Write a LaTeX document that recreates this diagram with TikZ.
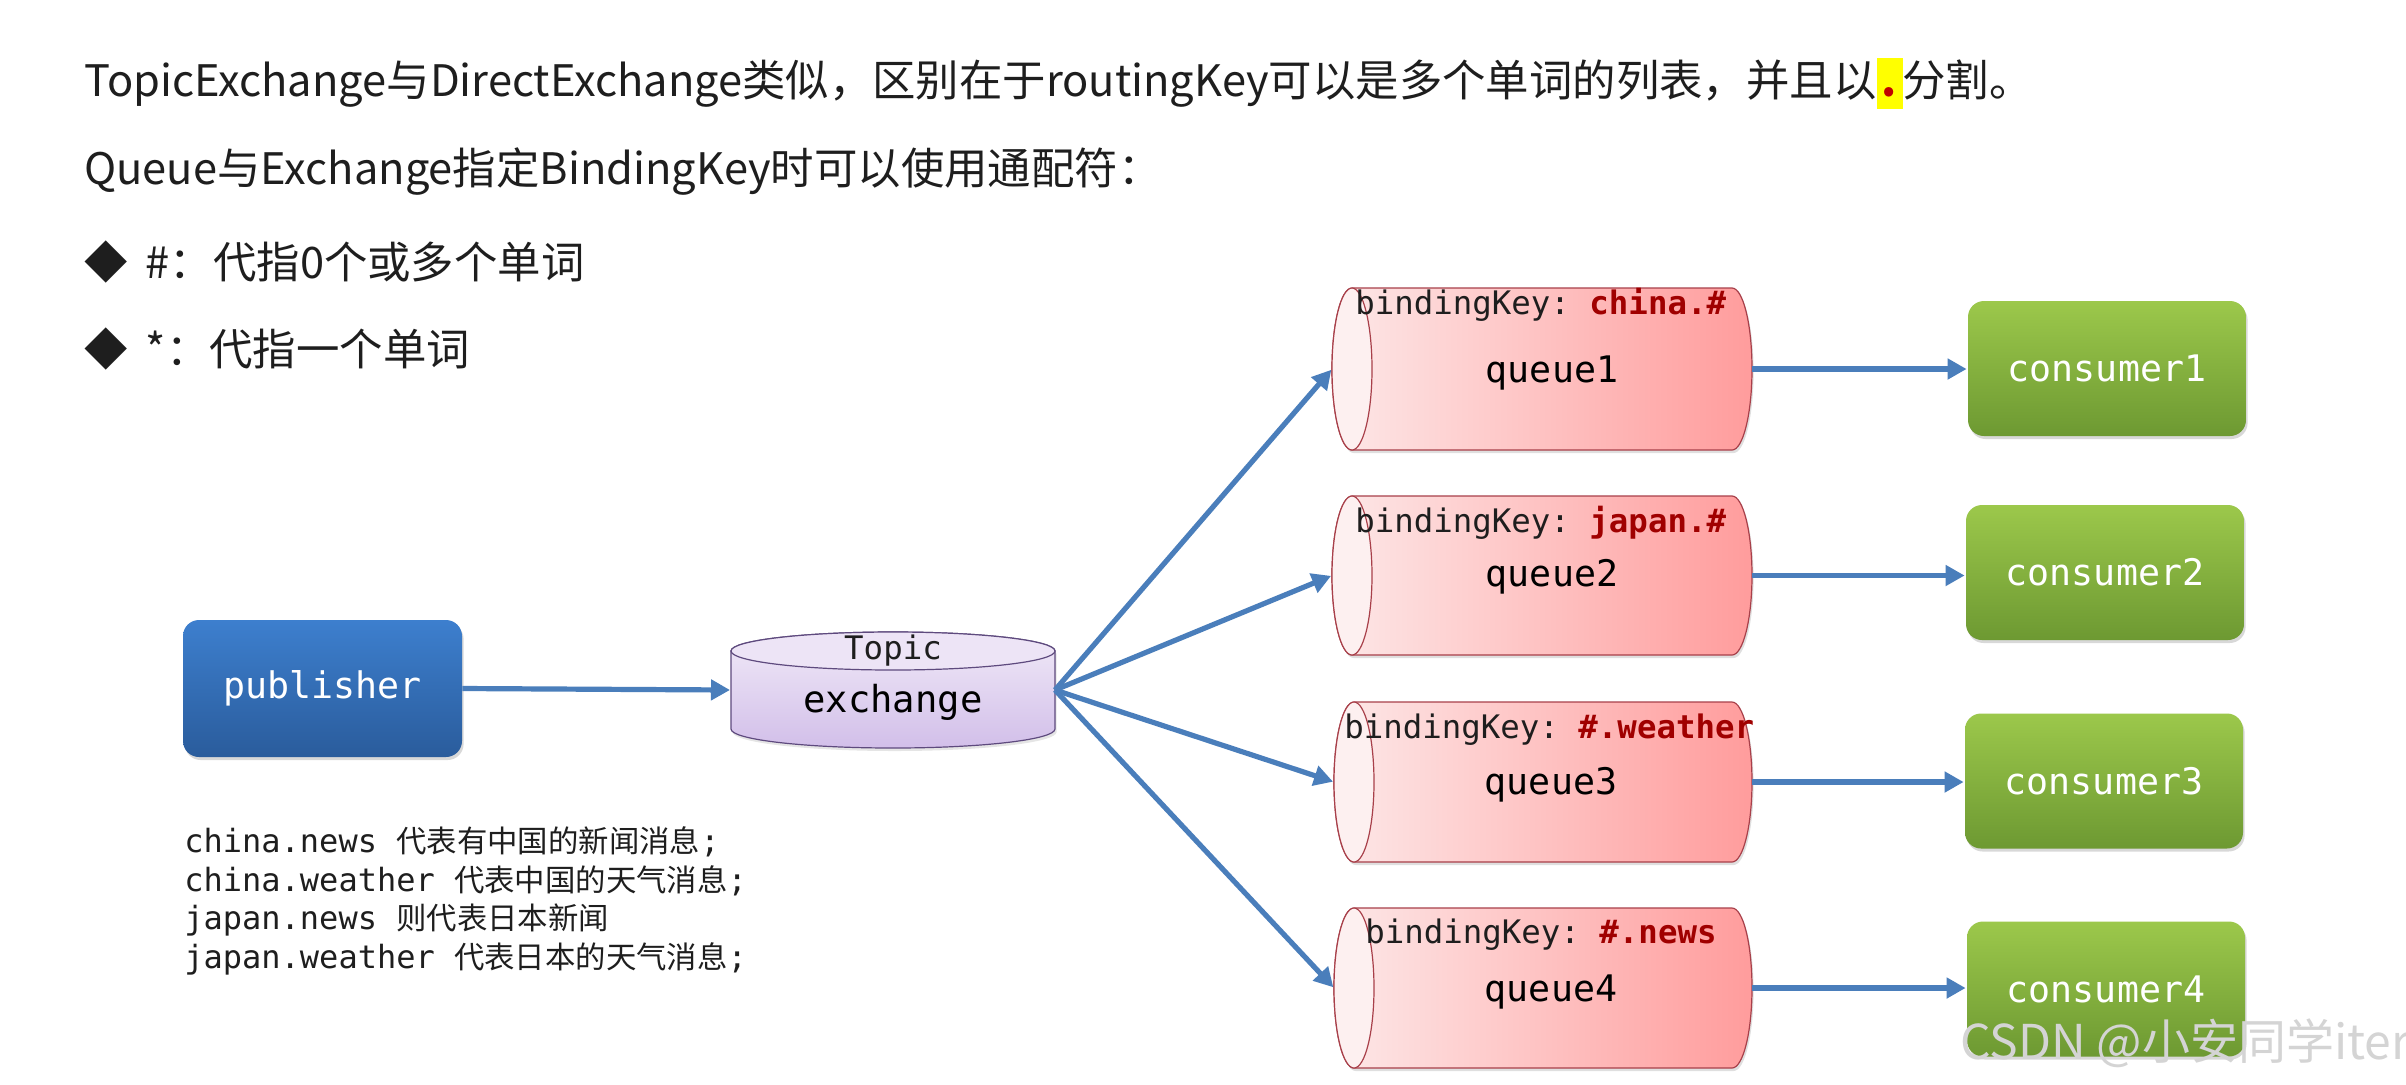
\documentclass[tikz,border=0pt]{standalone}
\usepackage{fontspec}
\setmainfont{Noto Sans CJK SC}
\setmonofont{DejaVu Sans Mono}
\usetikzlibrary{arrows.meta,shadows}
\definecolor{arrowblue}{HTML}{4A7EBB}
\definecolor{textdark}{HTML}{1E1E1E}
\definecolor{hlyellow}{HTML}{FFFF00}
\definecolor{dotred}{HTML}{C00000}
\definecolor{keyred}{HTML}{A00000}
\definecolor{pubtop}{HTML}{3D7FCE}
\definecolor{pubbot}{HTML}{2A5C9C}
\definecolor{contop}{HTML}{9CC84B}
\definecolor{conbot}{HTML}{6D9932}
\definecolor{extop}{HTML}{F1EAF8}
\definecolor{exbot}{HTML}{D2BFE9}
\definecolor{exface}{HTML}{EDE4F6}
\definecolor{exborder}{HTML}{5E4A7E}
\definecolor{qleft}{HTML}{FDE8E8}
\definecolor{qright}{HTML}{FF9C9C}
\definecolor{qface}{HTML}{FDF0F0}
\definecolor{qborder}{HTML}{A8404A}
\definecolor{wmgray}{HTML}{D4D4D4}
\newcommand\hldot{{\setlength{\fboxsep}{0pt}\colorbox{hlyellow}{\rule[-6pt]{0pt}{25.5pt}\makebox[13pt]{\textcolor{dotred}{\bfseries .}}}}}
\newcommand\qcyl[5]{%
  \pgfmathsetmacro\qM{(#3+#5)/2}%
  \pgfmathsetmacro\qry{(#5-#3)/2}%
  \pgfmathsetmacro\qLi{#2+20}%
  \pgfmathsetmacro\qRi{#4-20}%
  \pgfmathsetmacro\qcx{(#2+#4)/2}%
  \path[qbody] (\qLi,-#3) -- (\qRi,-#3)
     arc[start angle=90,end angle=-90,x radius=20,y radius=\qry]
     -- (\qLi,-#5)
     arc[start angle=270,end angle=90,x radius=20,y radius=\qry] -- cycle;
  \path[qend] (\qLi,-\qM) ellipse[x radius=20,y radius=\qry];
  \node[anchorbox, minimum width={(#4-#2)*0.5pt}, minimum height={(#5-#3)*0.5pt}] (#1) at (\qcx,-\qM) {};
}
\begin{document}
\begin{tikzpicture}[x=0.5pt,y=0.5pt,
  head/.style={anchor=west, inner sep=0pt, text=textdark, font=\fontsize{21.7}{26}\selectfont},
  bigmono/.style={font=\ttfamily\fontsize{18.3}{20}\selectfont, inner sep=0pt},
  keymono/.style={font=\ttfamily\fontsize{16.2}{18}\selectfont, inner sep=0pt, text=textdark},
  anchorbox/.style={draw=none, inner sep=0pt, outer sep=0pt, rectangle},
  pubbox/.style={bigmono, rectangle, rounded corners=8pt, minimum width=139.5pt, minimum height=68.5pt,
     top color=pubtop, bottom color=pubbot, text=white,
     drop shadow={opacity=0.3, shadow xshift=0.8pt, shadow yshift=-1.5pt}},
  conbox/.style={bigmono, rectangle, rounded corners=8pt, minimum width=139pt, minimum height=67.5pt,
     top color=contop, bottom color=conbot, text=white,
     drop shadow={opacity=0.3, shadow xshift=0.8pt, shadow yshift=-1.5pt}},
  qbody/.style={draw=qborder, line width=0.6pt, left color=qleft, right color=qright,
     drop shadow={opacity=0.25, shadow xshift=0.8pt, shadow yshift=-1.5pt}},
  qend/.style={draw=qborder, line width=0.6pt, fill=qface},
  flow/.style={draw=arrowblue, line width=2.6pt, -{Triangle[length=9.5pt,width=10pt]}, shorten >=0.5pt},
]
\useasboundingbox (0,0) rectangle (2406,-1084);
\fill[white] (0,0) rectangle (2406,-1084);

% heading text
\node[head] (l1) at (84,-83) {TopicExchange与DirectExchange类似，区别在于routingKey可以是多个单词的列表，并且以\hldot 分割。};
\node[head] (l2) at (84,-172) {Queue与Exchange指定BindingKey时可以使用通配符：};
\node[head] (l3) at (84,-262) {◆\hspace{9pt}\#：代指0个或多个单词};
\node[head] (l4) at (84,-349) {◆\hspace{9pt}*：代指一个单词};

% publisher
\node[pubbox] (pub) at (322.5,-688.5) {publisher};

% exchange cylinder
\path[draw=exborder, line width=0.6pt, top color=extop, bottom color=exbot,
      drop shadow={opacity=0.2, shadow xshift=0.8pt, shadow yshift=-1.5pt}]
  (731,-651) -- (731,-729) arc[start angle=180,end angle=360,x radius=162,y radius=19]
  -- (1055,-651) arc[start angle=0,end angle=180,x radius=162,y radius=19] -- cycle;
\path[draw=exborder, line width=0.6pt, fill=exface] (893,-651) ellipse[x radius=162,y radius=19];
\node[anchorbox, minimum width=162pt, minimum height=58pt] (ex) at (893,-690) {};
\node[keymono] (extopic) at (893,-651) {Topic};
\node[bigmono, font=\ttfamily\fontsize{18.6}{20}\selectfont] (exname) at (893,-702) {exchange};

% queues
\qcyl{q1}{1332}{288}{1752}{450}
\qcyl{q2}{1332}{496}{1752}{655}
\qcyl{q3}{1334}{702}{1752}{862}
\qcyl{q4}{1334}{908}{1752}{1068}

\node[keymono, anchor=west] (k1) at (1355,-305) {bindingKey: {\bfseries\color{keyred}china.\#}};
\node[keymono, anchor=west] (k2) at (1355,-523) {bindingKey: {\bfseries\color{keyred}japan.\#}};
\node[keymono, anchor=west] (k3) at (1344,-730) {bindingKey: {\bfseries\color{keyred}\#.weather}};
\node[keymono, anchor=west] (k4) at (1365,-935) {bindingKey: {\bfseries\color{keyred}\#.news}};

\node[bigmono] (n1) at (1552,-373) {queue1};
\node[bigmono] (n2) at (1552,-577) {queue2};
\node[bigmono] (n3) at (1551,-785) {queue3};
\node[bigmono] (n4) at (1551,-992) {queue4};

% consumers
\node[conbox] (c1) at (2107,-368.5) {consumer1};
\node[conbox] (c2) at (2105,-572.5) {consumer2};
\node[conbox] (c3) at (2104,-781) {consumer3};
\node[conbox] (c4) at (2106,-989) {consumer4};

% connectors
\draw[flow] (pub.east) -- (ex.west);
\draw[flow] (ex.east) -- (q1.west);
\draw[flow] (ex.east) -- (q2.west);
\draw[flow] (ex.east) -- (q3.west);
\draw[flow] (ex.east) -- (q4.west);
\draw[flow] (q1.east) -- (c1.west |- q1.east);
\draw[flow] (q2.east) -- (c2.west |- q2.east);
\draw[flow] (q3.east) -- (c3.west |- q3.east);
\draw[flow] (q4.east) -- (c4.west |- q4.east);

% example routing keys
\node[anchor=north west, inner sep=0pt, align=left, text=textdark,
      font=\ttfamily\fontsize{16}{19.4}\selectfont] (ex1) at (184,-826) {%
china.news {\rmfamily\fontsize{15.2}{19.4}\selectfont 代表有中国的新闻消息};\\
china.weather {\rmfamily\fontsize{15.2}{19.4}\selectfont 代表中国的天气消息};\\
japan.news {\rmfamily\fontsize{15.2}{19.4}\selectfont 则代表日本新闻}\\
japan.weather {\rmfamily\fontsize{15.2}{19.4}\selectfont 代表日本的天气消息};};

% watermark
\node[inner sep=0pt, text=wmgray, font=\fontsize{24}{28}\selectfont] (wm) at (2185,-1043) {CSDN @小安同学iter};
\end{tikzpicture}
\end{document}
